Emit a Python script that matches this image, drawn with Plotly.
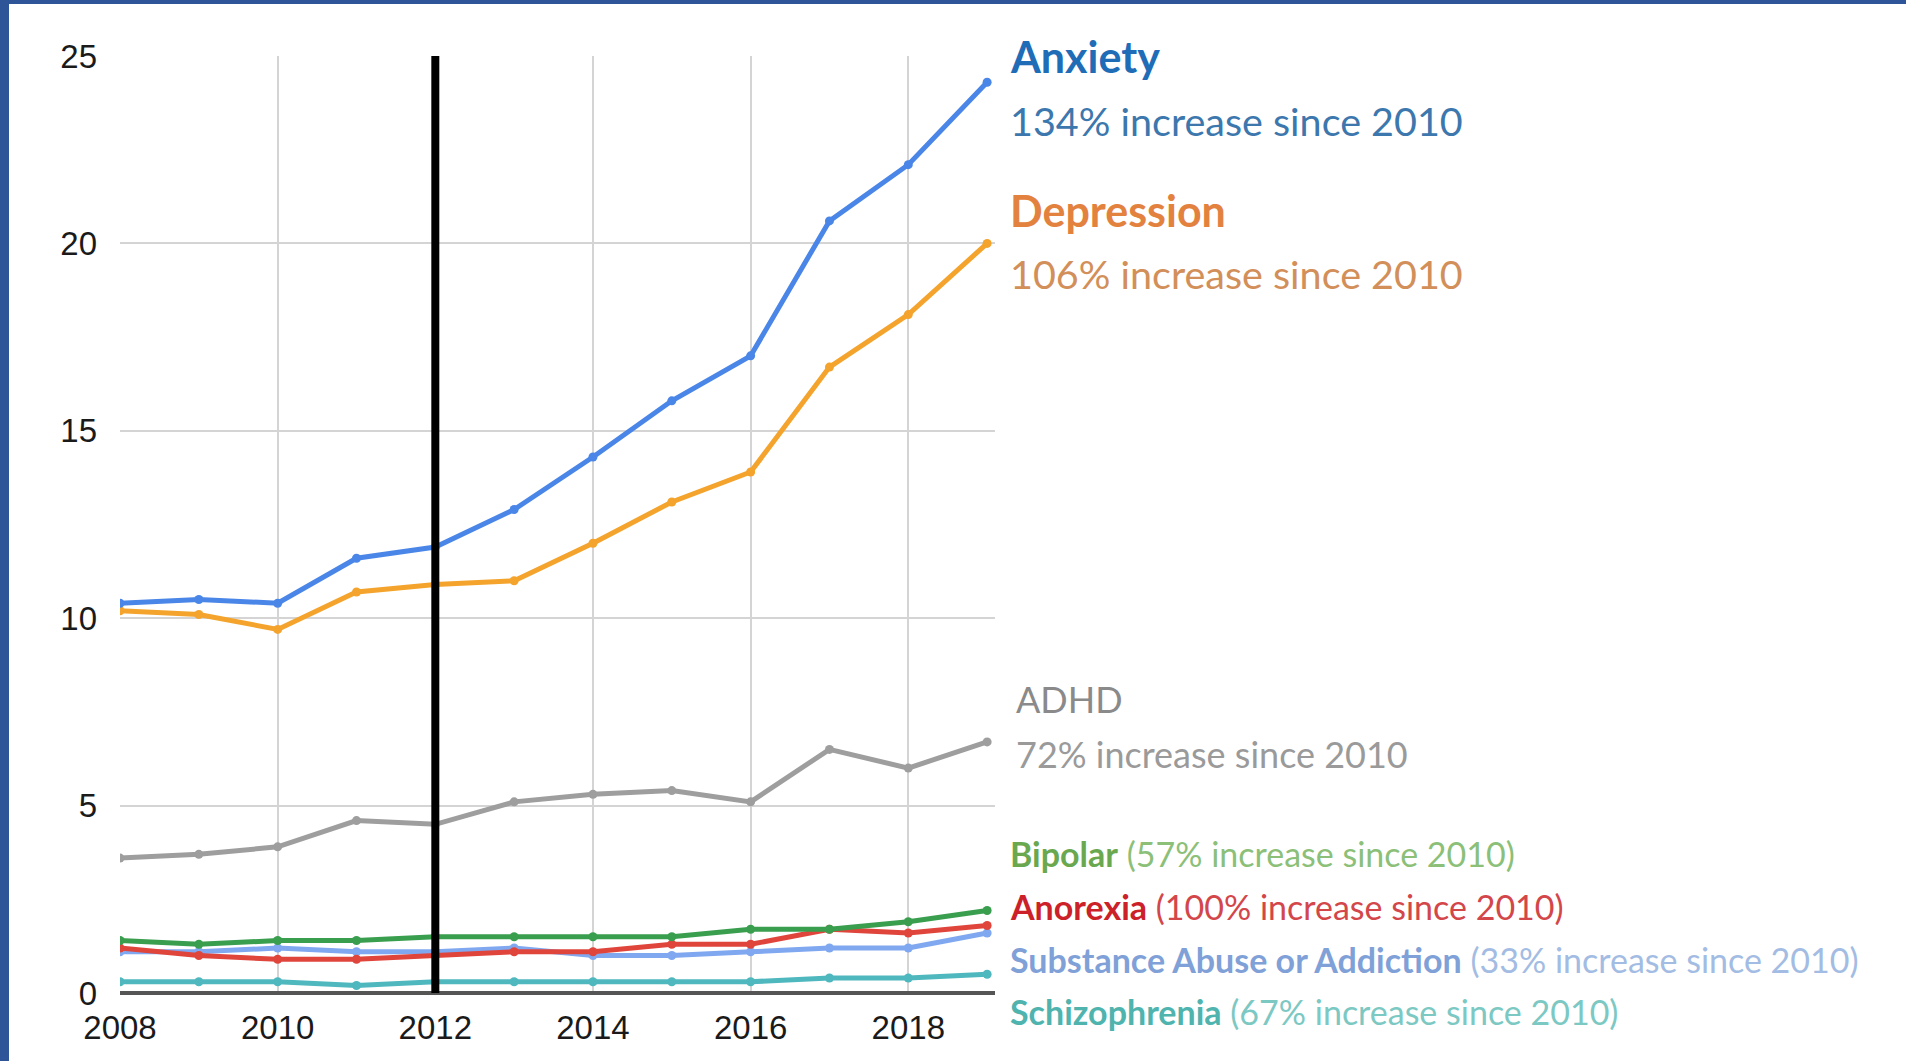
import plotly.graph_objects as go

# Diagnosis rates by year (per cent of respondents)
years = [2008, 2009, 2010, 2011, 2012, 2013, 2014, 2015, 2016, 2017, 2018, 2019]
anxiety = [10.4, 10.5, 10.4, 11.6, 11.9, 12.9, 14.3, 15.8, 17.0, 20.6, 22.1, 24.3]
depression = [10.2, 10.1, 9.7, 10.7, 10.9, 11.0, 12.0, 13.1, 13.9, 16.7, 18.1, 20.0]
adhd = [3.6, 3.7, 3.9, 4.6, 4.5, 5.1, 5.3, 5.4, 5.1, 6.5, 6.0, 6.7]
bipolar = [1.4, 1.3, 1.4, 1.4, 1.5, 1.5, 1.5, 1.5, 1.7, 1.7, 1.9, 2.2]
anorexia = [1.2, 1.0, 0.9, 0.9, 1.0, 1.1, 1.1, 1.3, 1.3, 1.7, 1.6, 1.8]
substance = [1.1, 1.1, 1.2, 1.1, 1.1, 1.2, 1.0, 1.0, 1.1, 1.2, 1.2, 1.6]
schizophrenia = [0.3, 0.3, 0.3, 0.2, 0.3, 0.3, 0.3, 0.3, 0.3, 0.4, 0.4, 0.5]

y_ticks = [0, 5, 10, 15, 20, 25]
x_ticks = [2008, 2010, 2012, 2014, 2016, 2018]
marker_year = 2012

W, H = 1906, 1061
L, R, T, B = 120, 995, 56, 993  # plot area in pixels

series = [
    ("Schizophrenia", schizophrenia, "#4fb8bf"),
    ("Substance Abuse or Addiction", substance, "#80a8f0"),
    ("Anorexia", anorexia, "#e0453c"),
    ("Bipolar", bipolar, "#3a9e4f"),
    ("ADHD", adhd, "#9e9e9e"),
    ("Depression", depression, "#f4a42c"),
    ("Anxiety", anxiety, "#4a86e8"),
]

fig = go.Figure()
for name, vals, col in series:
    fig.add_trace(go.Scatter(
        x=years, y=vals, name=name, mode="lines+markers",
        line=dict(color=col, width=5),
        marker=dict(color=col, size=9),
        showlegend=False,
    ))

# vertical marker line
fig.add_shape(type="line", xref="x", yref="y",
              x0=marker_year, x1=marker_year, y0=y_ticks[0], y1=y_ticks[-1],
              line=dict(color="black", width=8), layer="above")


def px(xp):
    return (xp - L) / (R - L)


def py(yp):
    return (B - yp) / (B - T)


# frame bands along the top and left edges
fig.add_shape(type="rect", xref="paper", yref="paper",
              x0=px(0), x1=px(9), y0=py(H), y1=py(0),
              fillcolor="#2d5597", line_width=0, layer="above")
fig.add_shape(type="rect", xref="paper", yref="paper",
              x0=px(0), x1=px(W), y0=py(4), y1=py(0),
              fillcolor="#2d5597", line_width=0, layer="above")

FONT = "Lato"
labels = [
    (1008, 57, "<b>Anxiety</b>", "#1f6cb7", 43),
    (1008, 121, "134% increase since 2010", "#3c77ad", 39.5),
    (1008, 210, "<b>Depression</b>", "#e3823f", 43),
    (1008, 273, "106% increase since 2010", "#d28f5a", 39.5),
    (1014, 699, "ADHD", "#8a8a8a", 36),
    (1014, 754, "72% increase since 2010", "#9a9a9a", 36),
    (1008, 853, "<b>Bipolar</b> <span style='color:#8cbf78'>(57% increase since 2010)</span>", "#6aa84f", 34),
    (1008, 906, "<b>Anorexia</b> <span style='color:#d3464a'>(100% increase since 2010)</span>", "#cc2128", 34),
    (1008, 959, "<b>Substance Abuse or Addiction</b> <span style='color:#a3bce3'>(33% increase since 2010)</span>", "#7fa1d8", 34),
    (1008, 1011, "<b>Schizophrenia</b> <span style='color:#7cc8c3'>(67% increase since 2010)</span>", "#4fb3ae", 34),
]
for xp, yp, txt, col, size in labels:
    fig.add_annotation(xref="paper", yref="paper", x=px(xp), y=py(yp),
                       xanchor="left", yanchor="middle", text=txt,
                       showarrow=False, font=dict(family=FONT, size=size, color=col))

fig.update_layout(
    width=W, height=H,
    margin=dict(l=L, r=W - R, t=T, b=H - B),
    paper_bgcolor="white", plot_bgcolor="white",
    font=dict(family="Liberation Sans, Arial", size=33, color="#1a1a1a"),
)
fig.update_xaxes(
    range=[2008, 2019.1], tickvals=x_ticks, showgrid=True,
    gridcolor="#d4d4d4", gridwidth=2, zeroline=False, showline=False,
    tickfont=dict(size=33, color="#1a1a1a"), ticks="", ticklabelstandoff=12,
)
fig.update_yaxes(
    range=[0, 25], tickvals=y_ticks, showgrid=True,
    gridcolor="#d4d4d4", gridwidth=2, zeroline=True, zerolinecolor="#555555",
    zerolinewidth=4, showline=False,
    tickfont=dict(size=33, color="#1a1a1a"), ticks="", ticklabelstandoff=22,
)

fig.write_html("out.html")
